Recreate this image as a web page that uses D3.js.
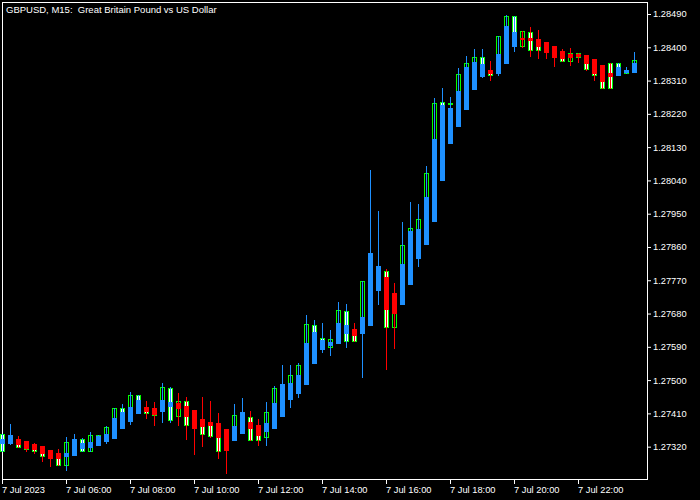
<!DOCTYPE html>
<html><head><meta charset="utf-8">
<script src="https://cdn.jsdelivr.net/npm/d3@7"></script>
<style>html,body{margin:0;padding:0;background:#000;}svg{display:block;}</style>
</head><body>
<svg id="chart" width="700" height="500"></svg>
<script>
const chartTitle = "GBPUSD, M15:  Great Britain Pound vs US Dollar";
const barStart = new Date(2023, 6, 7, 4, 0);
const barMinutes = 15;

// regular chart candles (open / close)
const regOpen = [1.27354,1.27335,1.27338,1.27325,1.27319,1.27311,1.27306,1.27303,1.27270,1.27325,
1.27341,1.27308,1.27352,1.27354,1.27398,1.27425,1.27427,1.27460,1.27427,1.27425,
1.27419,1.27479,1.27403,1.27444,1.27414,1.27395,1.27387,1.27384,1.27365,1.27376,
1.27392,1.27400,1.27379,1.27346,1.27438,1.27460,1.27449,1.27514,1.27600,1.27649,
1.27614,1.27590,1.27655,1.27687,1.27638,1.27627,1.27717,1.27798,1.27795,1.27644,
1.27814,1.27903,1.27909,1.27995,1.28152,1.28252,1.28247,1.28282,1.28347,1.28360,
1.28374,1.28339,1.28382,1.28458,1.28485,1.28403,1.28441,1.28422,1.28409,1.28401,
1.28390,1.28363,1.28385,1.28379,1.28368,1.28352,1.28358,1.28358,1.28330,1.28358];
const regClose = [1.27308,1.27349,1.27319,1.27314,1.27308,1.27295,1.27295,1.27270,1.27333,1.27338,
1.27308,1.27352,1.27341,1.27373,1.27425,1.27414,1.27460,1.27446,1.27411,1.27406,
1.27481,1.27392,1.27444,1.27379,1.27376,1.27354,1.27349,1.27308,1.27314,1.27406,
1.27411,1.27338,1.27338,1.27414,1.27479,1.27487,1.27514,1.27541,1.27652,1.27630,
1.27606,1.27611,1.27690,1.27606,1.27606,1.27768,1.27825,1.27757,1.27644,1.27717,
1.27865,1.27911,1.27936,1.28060,1.28249,1.28244,1.28249,1.28328,1.28358,1.28374,
1.28322,1.28325,1.28431,1.28485,1.28403,1.28444,1.28393,1.28393,1.28393,1.28374,
1.28363,1.28385,1.28374,1.28341,1.28325,1.28290,1.28290,1.28347,1.28336,1.28366];

// Heiken Ashi overlay
const haOpen = [1.27330,1.27330,1.27341,1.27335,1.27327,1.27322,1.27311,1.27303,1.27295,1.27298,
1.27317,1.27319,1.27325,1.27335,1.27344,1.27371,1.27390,1.27411,1.27427,1.27425,
1.27417,1.27430,1.27438,1.27430,1.27419,1.27395,1.27387,1.27384,1.27368,1.27338,
1.27357,1.27387,1.27379,1.27362,1.27371,1.27403,1.27449,1.27465,1.27490,1.27546,
1.27584,1.27595,1.27600,1.27627,1.27638,1.27627,1.27649,1.27744,1.27779,1.27736,
1.27706,1.27760,1.27830,1.27868,1.27930,1.28041,1.28141,1.28187,1.28233,1.28287,
1.28322,1.28339,1.28330,1.28358,1.28403,1.28425,1.28425,1.28422,1.28414,1.28403,
1.28390,1.28382,1.28382,1.28379,1.28368,1.28352,1.28330,1.28325,1.28333,1.28333];
const haClose = [1.27341,1.27352,1.27327,1.27317,1.27314,1.27303,1.27289,1.27289,1.27303,1.27341,
1.27330,1.27333,1.27349,1.27354,1.27398,1.27414,1.27427,1.27446,1.27417,1.27408,
1.27446,1.27441,1.27425,1.27403,1.27371,1.27376,1.27379,1.27346,1.27311,1.27376,
1.27414,1.27371,1.27352,1.27384,1.27438,1.27490,1.27492,1.27514,1.27600,1.27630,
1.27609,1.27603,1.27655,1.27649,1.27622,1.27671,1.27844,1.27809,1.27692,1.27682,
1.27814,1.27903,1.27909,1.27995,1.28152,1.28244,1.28236,1.28282,1.28347,1.28360,
1.28355,1.28330,1.28382,1.28458,1.28441,1.28422,1.28420,1.28403,1.28387,1.28374,
1.28371,1.28374,1.28376,1.28358,1.28330,1.28309,1.28322,1.28347,1.28339,1.28358];
const haHigh = [1.27354,1.27381,1.27349,1.27335,1.27330,1.27322,1.27311,1.27314,1.27346,1.27354,
1.27344,1.27360,1.27352,1.27376,1.27425,1.27435,1.27468,1.27460,1.27444,1.27441,
1.27492,1.27481,1.27465,1.27454,1.27419,1.27454,1.27444,1.27411,1.27368,1.27435,
1.27452,1.27417,1.27395,1.27441,1.27484,1.27541,1.27541,1.27546,1.27676,1.27663,
1.27655,1.27636,1.27711,1.27706,1.27655,1.27768,1.28068,1.27957,1.27800,1.27763,
1.27928,1.27982,1.27976,1.28079,1.28263,1.28290,1.28266,1.28344,1.28376,1.28395,
1.28395,1.28363,1.28431,1.28487,1.28485,1.28444,1.28455,1.28447,1.28414,1.28403,
1.28395,1.28398,1.28385,1.28379,1.28368,1.28352,1.28358,1.28358,1.28347,1.28387];
const haLow = [1.27308,1.27327,1.27319,1.27308,1.27303,1.27281,1.27268,1.27270,1.27257,1.27298,
1.27308,1.27308,1.27325,1.27330,1.27344,1.27371,1.27381,1.27411,1.27398,1.27379,
1.27387,1.27387,1.27379,1.27341,1.27300,1.27322,1.27346,1.27289,1.27249,1.27338,
1.27357,1.27338,1.27325,1.27325,1.27371,1.27403,1.27427,1.27454,1.27490,1.27546,
1.27576,1.27568,1.27600,1.27590,1.27606,1.27508,1.27649,1.27706,1.27530,1.27587,
1.27706,1.27760,1.27809,1.27868,1.27930,1.28041,1.28141,1.28187,1.28233,1.28287,
1.28320,1.28312,1.28325,1.28358,1.28390,1.28401,1.28376,1.28371,1.28371,1.28349,
1.28363,1.28352,1.28360,1.28339,1.28312,1.28290,1.28290,1.28325,1.28330,1.28333];

const priceTicks = [1.28490,1.28400,1.28310,1.28220,1.28130,1.28040,1.27950,1.27860,1.27770,1.27680,1.27590,1.27500,1.27410,1.27320];
const timeTickIndex = [0,8,16,24,32,40,48,56,64,72];
const timeTickLabels = ["7 Jul 2023","7 Jul 06:00","7 Jul 08:00","7 Jul 10:00","7 Jul 12:00","7 Jul 14:00","7 Jul 16:00","7 Jul 18:00","7 Jul 20:00","7 Jul 22:00"];

const colors = {bg:"#000000", frame:"#ffffff", text:"#ffffff", candle:"#00ff00", bearFill:"#ffffff", bullFill:"#000000", haUp:"#1e90ff", haDown:"#ff0000"};
const FONT = "'Liberation Sans', Arial, sans-serif";

const bars = regOpen.map((o,i)=>({
  i, time: new Date(barStart.getTime() + i*barMinutes*60000),
  o, c: regClose[i], hao: haOpen[i], hac: haClose[i], hah: haHigh[i], hal: haLow[i]
}));

const svg = d3.select("#chart");
svg.append("rect").attr("width",700).attr("height",500).attr("fill",colors.bg);

const x = d3.scaleLinear().domain([0, bars.length-1]).range([2, 2 + 8*(bars.length-1)]);
const y = d3.scaleLinear().domain([1.27320, 1.28490]).range([446.67, 14]);
const px = i => Math.round(x(i));
const py = v => Math.round(y(v));

// frame
svg.append("rect").attr("x",2.5).attr("y",2.5).attr("width",645).attr("height",477)
  .attr("fill","none").attr("stroke",colors.frame).attr("stroke-width",1);

// title
svg.append("text").attr("x",6).attr("y",13).attr("fill",colors.text)
  .style("font-family",FONT).style("font-size","9.5px").style("white-space","pre")
  .text(chartTitle);

// y axis (right)
const yAxis = d3.axisRight(y).tickValues(priceTicks).tickSize(4).tickPadding(2).tickFormat(d3.format(".5f"));
const gy = svg.append("g").attr("transform","translate(647,0)").call(yAxis);
gy.select(".domain").remove();
gy.selectAll("line").attr("stroke",colors.frame);
gy.selectAll("text").attr("fill",colors.text).style("font-family",FONT).style("font-size","9.3px");

// x axis (bottom)
const xAxis = d3.axisBottom(x).tickValues(timeTickIndex).tickSize(5).tickPadding(2)
  .tickFormat((d,k)=>timeTickLabels[k]);
const gx = svg.append("g").attr("transform","translate(0,479)").call(xAxis);
gx.select(".domain").remove();
gx.selectAll("line").attr("stroke",colors.frame);
gx.selectAll("text").attr("fill",colors.text).attr("text-anchor","start").attr("x",-0.5)
  .style("font-family",FONT).style("font-size","9.3px");

// regular candles
const reg = svg.append("g");
reg.selectAll("rect").data(bars).join("rect")
  .attr("x", d=>px(d.i)-2+0.5)
  .attr("y", d=>py(Math.max(d.o,d.c))+0.5)
  .attr("width",4)
  .attr("height", d=>Math.max(0, py(Math.min(d.o,d.c))-py(Math.max(d.o,d.c))))
  .attr("fill", d=> d.c>=d.o ? colors.bullFill : colors.bearFill)
  .attr("stroke", colors.candle).attr("stroke-width",1);

// Heiken Ashi wicks
const ha = svg.append("g");
ha.selectAll("line").data(bars).join("line")
  .attr("x1", d=>px(d.i)+0.5).attr("x2", d=>px(d.i)+0.5)
  .attr("y1", d=>py(d.hah)).attr("y2", d=>py(d.hal)+1)
  .attr("stroke", d=> d.hac>=d.hao ? colors.haUp : colors.haDown).attr("stroke-width",1);
// Heiken Ashi bodies
ha.selectAll("rect").data(bars).join("rect")
  .attr("x", d=>px(d.i)-2)
  .attr("y", d=>py(Math.max(d.hao,d.hac)))
  .attr("width",5)
  .attr("height", d=>Math.max(1, py(Math.min(d.hao,d.hac))-py(Math.max(d.hao,d.hac))+1))
  .attr("fill", d=> d.hac>=d.hao ? colors.haUp : colors.haDown);
</script>
</body></html>
